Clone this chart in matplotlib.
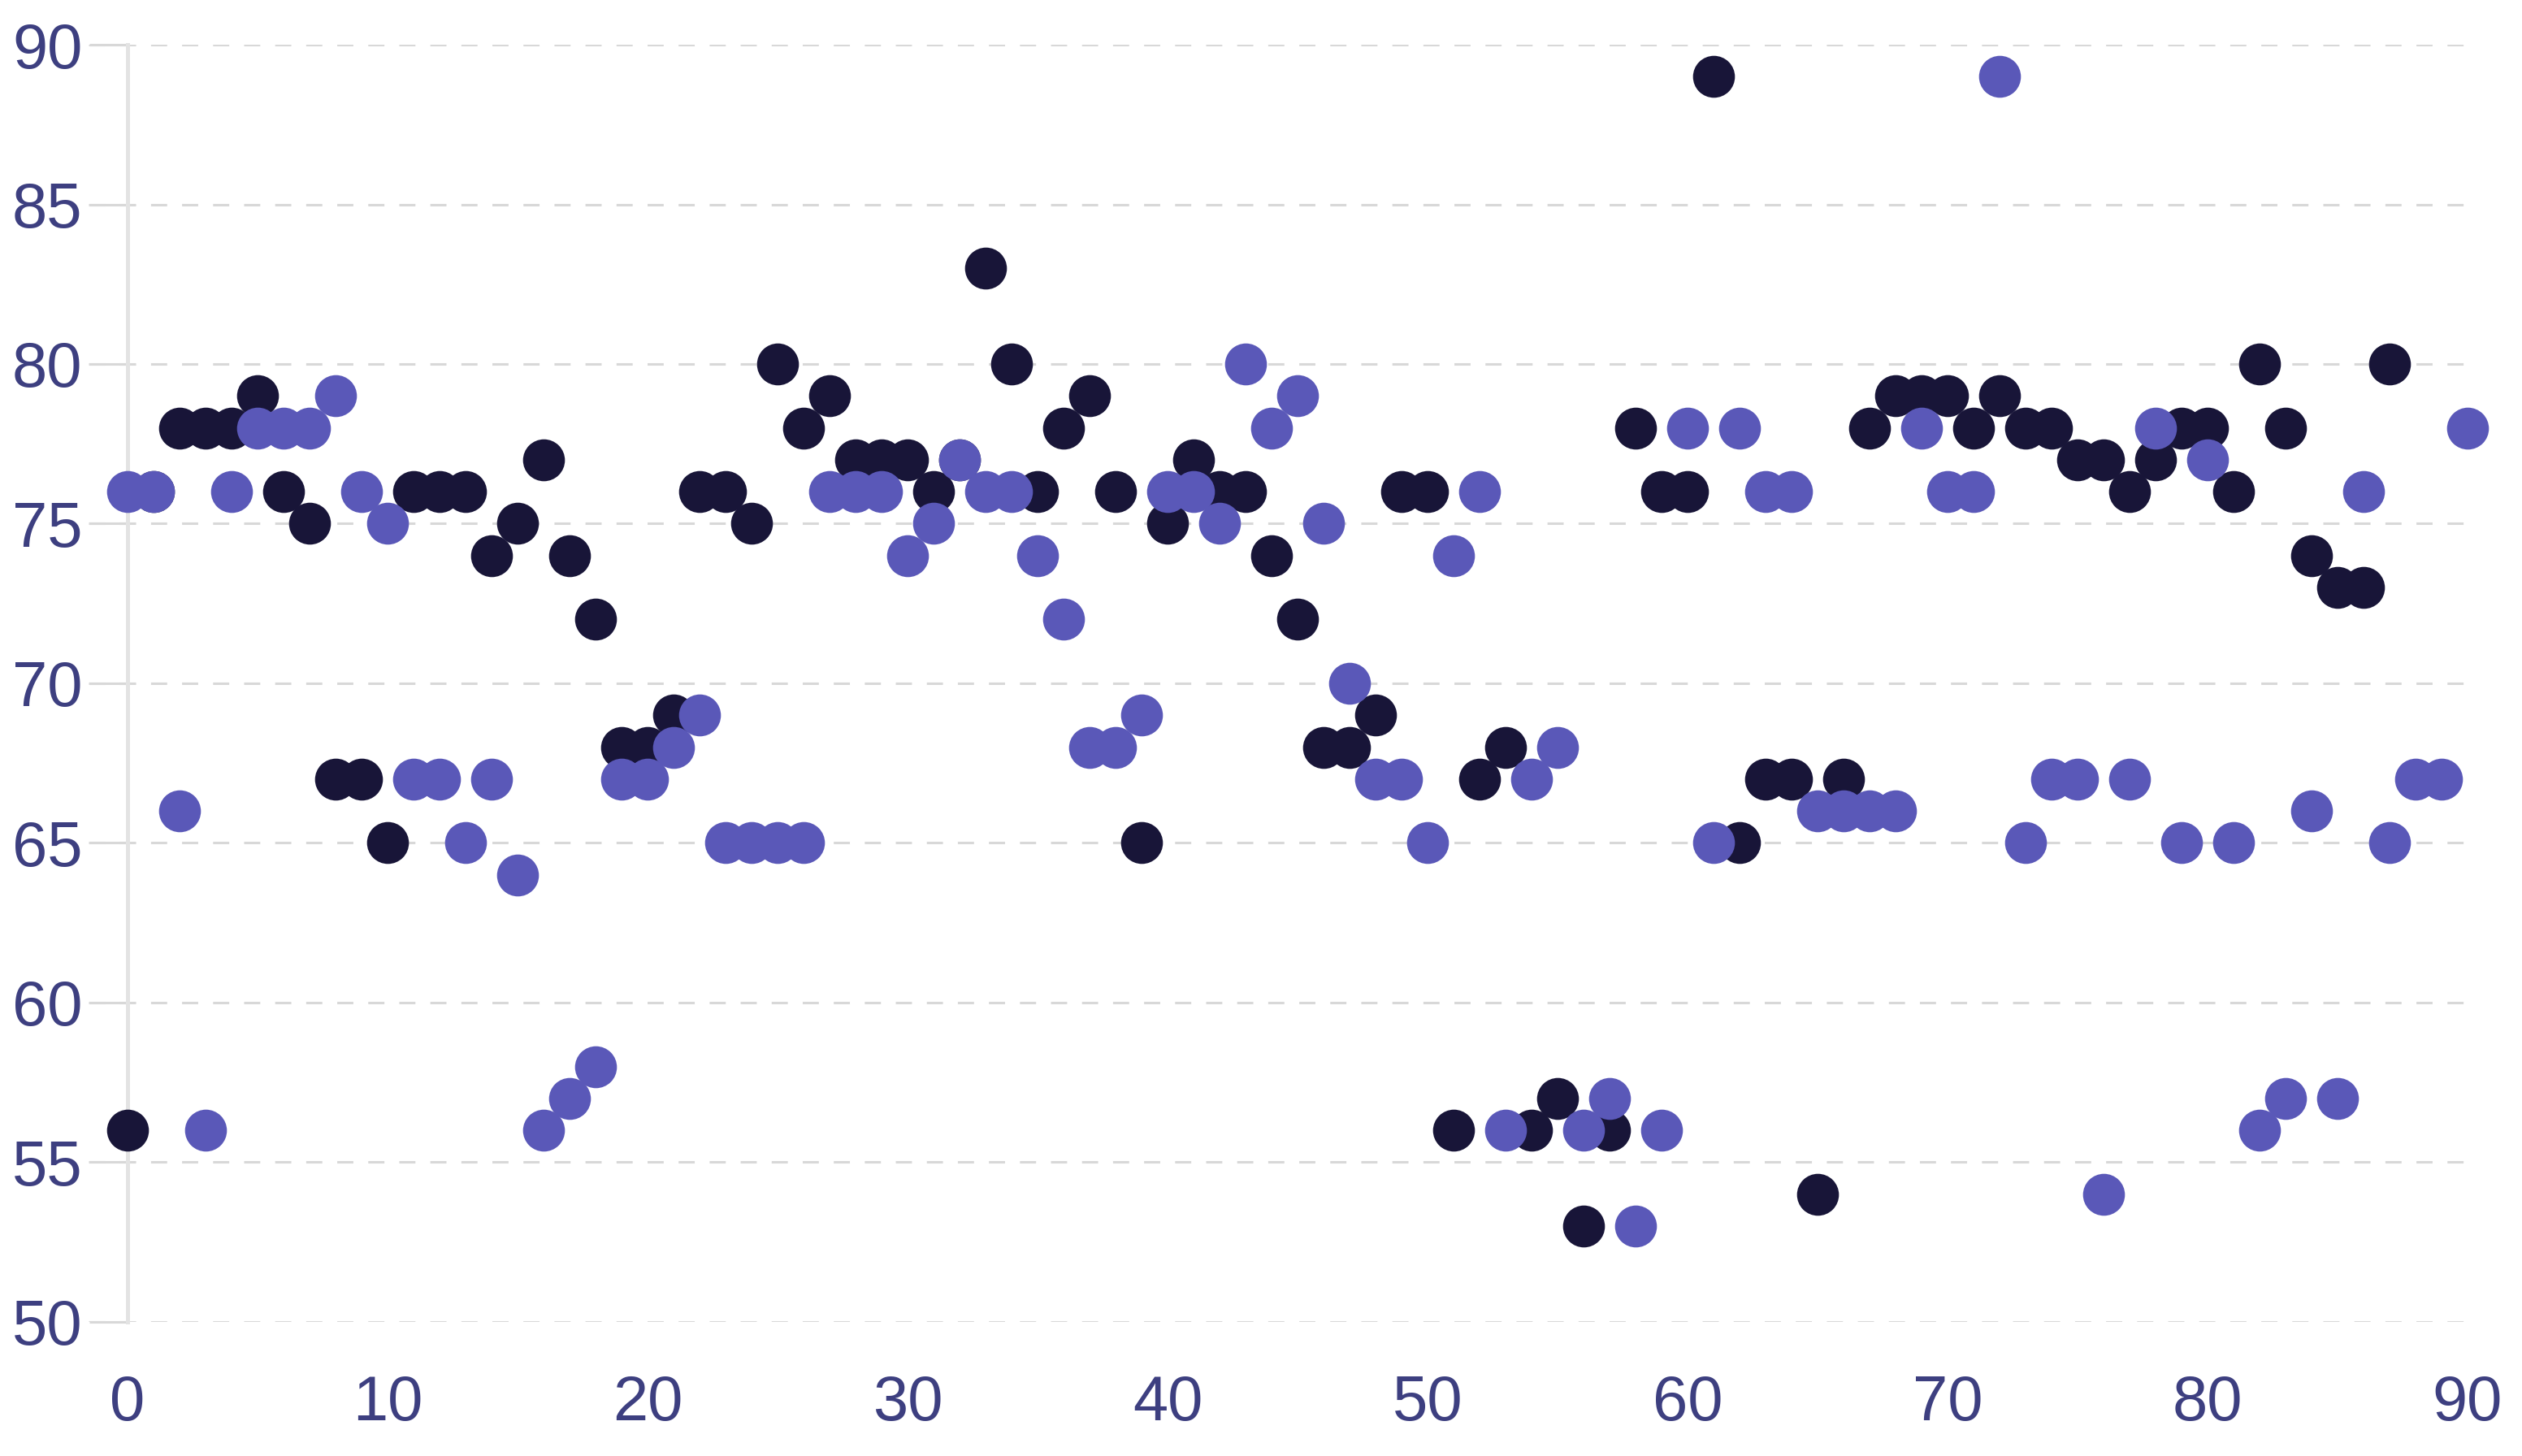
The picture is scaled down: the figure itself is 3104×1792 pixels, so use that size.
import matplotlib
matplotlib.use("Agg")
import matplotlib.pyplot as plt

# series values, one point per x (dark stops at 87)
dark_y = [56, 76, 78, 78, 78, 79, 76, 75, 67, 67,
          65, 76, 76, 76, 74, 75, 77, 74, 72, 68,
          68, 69, 76, 76, 75, 80, 78, 79, 77, 77,
          77, 76, 77, 83, 80, 76, 78, 79, 76, 65,
          75, 77, 76, 76, 74, 72, 68, 68, 69, 76,
          76, 56, 67, 68, 56, 57, 53, 56, 78, 76,
          76, 89, 65, 67, 67, 54, 67, 78, 79, 79,
          79, 78, 79, 78, 78, 77, 77, 76, 77, 78,
          78, 76, 80, 78, 74, 73, 73, 80]
purple_y = [76, 76, 66, 56, 76, 78, 78, 78, 79, 76,
            75, 67, 67, 65, 67, 64, 56, 57, 58, 67,
            67, 68, 69, 65, 65, 65, 65, 76, 76, 76,
            74, 75, 77, 76, 76, 74, 72, 68, 68, 69,
            76, 76, 75, 80, 78, 79, 75, 70, 67, 67,
            65, 74, 76, 56, 67, 68, 56, 57, 53, 56,
            78, 65, 78, 76, 76, 66, 66, 66, 66, 78,
            76, 76, 89, 65, 67, 67, 54, 67, 78, 65,
            77, 65, 56, 57, 66, 57, 76, 65, 67, 67,
            78]
dark_x = list(range(len(dark_y)))
purple_x = list(range(len(purple_y)))

x_ticks = [0, 10, 20, 30, 40, 50, 60, 70, 80, 90]
y_ticks = [50, 55, 60, 65, 70, 75, 80, 85, 90]

plt.rcParams['font.family'] = ['Liberation Sans', 'DejaVu Sans']

fig = plt.figure(figsize=(15.52, 8.96), dpi=200)
ax = fig.add_axes([0.0351, 0.0921, 0.9433, 0.8772])

ax.scatter(dark_x, dark_y, s=345, color='#181538', linewidths=0, zorder=3, clip_on=False)
ax.scatter(purple_x, purple_y, s=345, color='#5a58b8', linewidths=0, zorder=4, clip_on=False)

ax.set_xlim(-1.5, 90)
ax.set_ylim(50, 90)
ax.set_xticks(x_ticks)
ax.set_yticks(y_ticks)

ax.grid(axis='y', color='#d8d8d8', linewidth=1.1, dashes=(6.5, 6))
ax.grid(axis='x', visible=False)
ax.set_axisbelow(True)

for s in ['top', 'right', 'bottom']:
    ax.spines[s].set_visible(False)
ax.spines['left'].set_position(('data', 0))
ax.spines['left'].set_color('#e3e3e3')
ax.spines['left'].set_linewidth(1.8)

ax.tick_params(axis='y', length=17, width=1.1, color='#d8d8d8', pad=3,
               labelsize=28, labelcolor='#3d3f80')
ax.tick_params(axis='x', length=0, pad=23, labelsize=28, labelcolor='#3d3f80')

fig.savefig('out.png', dpi=200)
